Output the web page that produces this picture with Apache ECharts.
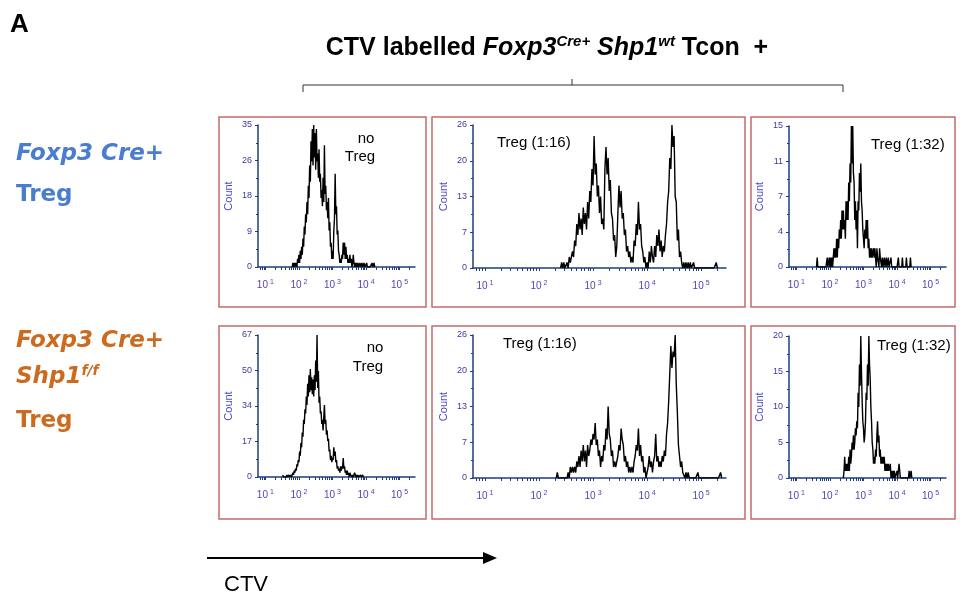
<!DOCTYPE html>
<html>
<head>
<meta charset="utf-8">
<script src="https://cdn.jsdelivr.net/npm/echarts@6/dist/echarts.min.js"></script>
<style>
  html, body { margin: 0; padding: 0; background: #fff; }
  #chart { width: 960px; height: 594px; }
</style>
</head>
<body>
<div id="chart"></div>
<script>
// histogram channels are in log10(CTV) units, one every 0.02
const binStep = 0.02
const decades = [1, 2, 3, 4, 5]

// top row: Foxp3 Cre+ Treg
const startA = 1.80
const countsA = [0, 1, 0, 1, 0, 1, 1, 0, 2, 1,
  3, 1, 4, 2, 5, 3, 7, 5, 10, 8,
  13, 11, 16, 13, 20, 17, 25, 21, 31, 26,
  34, 25, 35, 27, 33, 24, 34, 26, 28, 22,
  29, 21, 23, 17, 19, 15, 22, 16, 30, 18,
  20, 14, 16, 12, 17, 9, 11, 5, 6, 2,
  4, 2, 9, 12, 23, 13, 15, 8, 9, 4,
  3, 1, 2, 1, 3, 2, 6, 3, 6, 2,
  5, 2, 3, 1, 2, 1, 3, 1, 2, 0,
  1, 3, 1, 0, 1, 0, 1, 0, 1, 0,
  0, 1, 0, 0, 1, 0, 0, 1, 0, 0,
  0, 1, 0, 0, 0, 0, 0, 0, 0, 1,
  0, 0, 1, 0]
const ticksA = [0, 9, 18, 26, 35]

const startB = 2.40
const countsB = [0, 1, 0, 1, 0, 0, 1, 0, 2, 1,
  1, 3, 2, 5, 4, 8, 6, 10, 7, 9,
  6, 11, 8, 10, 7, 12, 9, 14, 12, 18,
  15, 24, 17, 19, 13, 15, 10, 13, 8, 9,
  7, 18, 22, 17, 20, 14, 16, 10, 9, 5,
  6, 2, 4, 10, 15, 11, 14, 9, 10, 6,
  7, 3, 4, 2, 3, 1, 2, 1, 5, 4,
  8, 6, 12, 7, 8, 4, 3, 1, 2, 0,
  1, 0, 3, 1, 4, 2, 1, 4, 2, 6,
  4, 7, 3, 5, 2, 4, 3, 6, 8, 12,
  14, 20, 18, 26, 22, 24, 13, 12, 5, 7,
  2, 3, 1, 0, 1, 0, 1, 0, 1, 0,
  1, 0, 0, 1, 0, 0, 0, 0, 0, 0,
  0, 0, 0, 0, 0, 0, 0, 0, 0, 0,
  0, 0, 0, 0, 1, 0]
const ticksB = [0, 7, 13, 20, 26]

const startC = 1.60
const countsC = [0, 1, 0, 0, 0, 0, 0, 0, 0, 0,
  0, 0, 0, 0, 0, 0, 1, 0, 0, 1,
  0, 1, 0, 1, 0, 1, 2, 1, 2, 1,
  3, 1, 3, 2, 4, 3, 5, 3, 6, 4,
  6, 4, 5, 3, 7, 5, 7, 5, 9, 7,
  11, 9, 15, 11, 15, 10, 9, 5, 7, 4,
  6, 2, 7, 6, 10, 8, 11, 7, 6, 4,
  3, 2, 4, 3, 5, 3, 5, 2, 3, 1,
  2, 1, 2, 1, 1, 2, 1, 2, 1, 0,
  2, 1, 1, 0, 2, 1, 1, 0, 1, 0,
  0, 1, 0, 0, 1, 0, 0, 1, 0, 0,
  0, 1, 0, 0, 0, 0, 0, 0, 0, 0,
  0, 0, 1, 0, 0, 0, 0, 0, 1, 0,
  0, 0, 0, 0, 1, 0, 0, 0, 0, 0,
  1, 0]
const ticksC = [0, 4, 7, 11, 15]

// bottom row: Foxp3 Cre+ Shp1 f/f Treg
const startD = 1.52
const countsD = [1, 0, 0, 0, 0, 0, 1, 0, 0, 1, 0, 0, 1, 0,
  1, 2, 1, 3, 2, 4, 3, 6, 5, 8,
  7, 12, 10, 16, 14, 21, 19, 27, 25, 32,
  30, 38, 34, 44, 38, 48, 40, 51, 41, 47,
  39, 46, 38, 48, 41, 55, 45, 67, 42, 50,
  35, 38, 30, 31, 25, 27, 22, 28, 34, 25,
  27, 20, 22, 17, 18, 12, 13, 8, 10, 7,
  9, 8, 14, 10, 12, 7, 8, 4, 5, 3,
  4, 2, 5, 3, 5, 4, 9, 4, 5, 2,
  3, 1, 3, 1, 2, 0, 2, 1, 1, 0,
  1, 0, 1, 2, 1, 0, 1, 0, 1, 0,
  0, 0, 1, 0, 0, 1, 0]
const ticksD = [0, 17, 34, 50, 67]

const startE = 2.32
const countsE = [0, 1, 0, 0, 0, 0, 0, 0, 0, 0, 0,
  1, 0, 2, 1, 2, 1, 2, 1, 3, 2,
  4, 2, 5, 3, 6, 3, 5, 2, 6, 4,
  5, 7, 6, 8, 7, 10, 6, 7, 4, 5,
  2, 4, 3, 6, 5, 9, 7, 13, 8, 7,
  4, 5, 2, 3, 2, 3, 4, 6, 5, 9,
  7, 6, 3, 4, 2, 3, 1, 2, 1, 2,
  1, 3, 4, 6, 5, 9, 4, 6, 3, 4,
  1, 2, 0, 1, 2, 4, 2, 3, 1, 3,
  4, 8, 3, 4, 2, 3, 2, 4, 3, 5,
  4, 8, 10, 14, 19, 24, 20, 23, 22, 26,
  17, 12, 6, 4, 2, 3, 1, 1, 0, 1,
  0, 1, 0, 0, 0, 0, 0, 0, 0, 0,
  1, 0, 0, 0, 0, 0, 0, 0, 0, 0,
  0, 0, 0, 0, 0, 0, 0, 0, 0, 0,
  0, 1, 0]
const ticksE = [0, 7, 13, 20, 26]

const startF = 2.40
const countsF = [0, 1, 3, 1, 2, 1, 2, 1, 3, 1,
  4, 2, 3, 5, 4, 6, 4, 5, 7, 6,
  8, 7, 12, 10, 16, 13, 20, 15, 11, 8,
  7, 5, 6, 8, 12, 11, 16, 13, 20, 16,
  14, 10, 8, 5, 4, 2, 3, 2, 4, 3,
  6, 8, 5, 6, 3, 4, 2, 3, 2, 3,
  2, 3, 1, 2, 1, 2, 1, 2, 1, 1,
  2, 0, 1, 0, 1, 0, 1, 0, 0, 0,
  1, 0, 1, 2, 1, 0, 0, 0, 0, 0,
  0, 0, 0, 0, 0, 0, 0, 0, 1, 0,
  0, 1, 0]
const ticksF = [0, 5, 10, 15, 20]

const axisBlue = '#1f3d7a'
const labelBlue = '#3b3b9c'
const expBlue = '#4f46b8'
const boxRed = '#c46b6b'
const sans = "'Liberation Sans', Arial, sans-serif"
const rowFont = "'DejaVu Sans', 'Open Sans', sans-serif"

// plot areas in px: left, top, width, height
const panels = [
  { rect: [258, 125, 157, 142], start: startA, counts: countsA, ticks: ticksA },
  { rect: [473, 125, 253, 143], start: startB, counts: countsB, ticks: ticksB },
  { rect: [789, 126, 157, 141], start: startC, counts: countsC, ticks: ticksC },
  { rect: [258, 335, 157, 142], start: startD, counts: countsD, ticks: ticksD },
  { rect: [473, 335, 253, 143], start: startE, counts: countsE, ticks: ticksE },
  { rect: [789, 336, 157, 142], start: startF, counts: countsF, ticks: ticksF }
]

// log minor tick marks along the CTV axis
let logTicks = []
for (let n = 0; n <= 5; n++) {
  for (let k = 1; k <= 9; k++) {
    let v = n + Math.log10(k)
    if (v >= 0.78 && v <= 5.46) logTicks.push(v)
  }
}

let chart = echarts.init(document.getElementById('chart'))

let grid = [], xAxis = [], yAxis = [], series = []
panels.forEach((p, i) => {
  let yMax = p.ticks[p.ticks.length - 1]
  grid.push({
    left: p.rect[0], top: p.rect[1], width: p.rect[2], height: p.rect[3],
    containLabel: false, outerBoundsMode: 'none'
  })
  xAxis.push({
    gridIndex: i,
    type: 'value',
    min: 0.78,
    max: 5.46,
    axisLine: { lineStyle: { color: axisBlue, width: 1.5 } },
    axisTick: { show: true, customValues: logTicks, length: 3, lineStyle: { color: axisBlue } },
    splitLine: { show: false },
    axisLabel: {
      customValues: decades,
      margin: 12,
      formatter: v => '{b|10}{s|' + v + '}',
      rich: {
        b: { fontSize: 10, color: expBlue, fontFamily: sans, lineHeight: 13 },
        s: { fontSize: 7, color: expBlue, fontFamily: sans, lineHeight: 7, verticalAlign: 'top', padding: [0, 0, 0, 2] }
      }
    }
  })
  yAxis.push({
    gridIndex: i,
    type: 'value',
    min: 0,
    max: yMax,
    interval: yMax / 4,
    name: 'Count',
    nameLocation: 'middle',
    nameGap: 24,
    nameTextStyle: { color: '#4b4bc8', fontSize: 11, fontFamily: sans },
    axisLine: { show: true, lineStyle: { color: axisBlue, width: 1.5 } },
    axisTick: { show: true, length: 3, lineStyle: { color: axisBlue } },
    minorTick: { show: true, splitNumber: 2, length: 2, lineStyle: { color: axisBlue } },
    splitLine: { show: false },
    axisLabel: {
      color: labelBlue,
      fontSize: 9,
      fontFamily: sans,
      margin: 6,
      formatter: v => String(p.ticks[Math.round(v / (yMax / 4))])
    }
  })
  series.push({
    type: 'line',
    xAxisIndex: i,
    yAxisIndex: i,
    symbol: 'none',
    silent: true,
    lineStyle: { color: '#000', width: 1.4 },
    data: p.counts.map((c, j) => [p.start + j * binStep, c])
  })
})

function box(x, y, w, h) {
  return { type: 'rect', shape: { x: x, y: y, width: w, height: h }, style: { fill: 'none', stroke: boxRed, lineWidth: 1.5 } }
}
function note(txt, x, y, align) {
  return { type: 'text', x: x, y: y, style: { text: txt, font: '15px ' + sans, fill: '#000', align: align || 'left', verticalAlign: 'middle' } }
}

let graphic = [
  box(219, 117, 207, 190), box(432, 117, 313, 190), box(751, 117, 204, 190),
  box(219, 326, 207, 193), box(432, 326, 313, 193), box(751, 326, 204, 193),
  { type: 'text', x: 10, y: 25, style: { text: 'A', font: 'bold 26px ' + sans, fill: '#000', verticalAlign: 'middle' } },
  {
    type: 'text', x: 547, y: 48,
    style: {
      text: '{n|CTV labelled }{i|Foxp3}{si|Cre+}{i| Shp1}{si|wt}{n| Tcon  +}',
      align: 'center', verticalAlign: 'middle',
      rich: {
        n: { font: 'bold 25px ' + sans, fill: '#000', lineHeight: 28 },
        i: { font: 'italic bold 25px ' + sans, fill: '#000', lineHeight: 28 },
        si: { font: 'italic bold 15px ' + sans, fill: '#000', lineHeight: 15, verticalAlign: 'top' }
      }
    }
  },
  { type: 'polyline', shape: { points: [[303, 92], [303, 85], [843, 85], [843, 92]] }, style: { stroke: '#333', lineWidth: 1, fill: 'none' } },
  { type: 'line', shape: { x1: 572, y1: 85, x2: 572, y2: 79 }, style: { stroke: '#333', lineWidth: 1 } },
  { type: 'text', x: 16, y: 154, style: { text: 'Foxp3 Cre+', font: 'italic bold 23px ' + rowFont, fill: '#4a7dcd', verticalAlign: 'middle' } },
  { type: 'text', x: 16, y: 195, style: { text: 'Treg', font: 'bold 23px ' + rowFont, fill: '#4a7dcd', verticalAlign: 'middle' } },
  { type: 'text', x: 16, y: 341, style: { text: 'Foxp3 Cre+', font: 'italic bold 23px ' + rowFont, fill: '#cc6a1e', verticalAlign: 'middle' } },
  {
    type: 'text', x: 16, y: 377,
    style: {
      text: '{a|Shp1}{b|f/f}', verticalAlign: 'middle',
      rich: {
        a: { font: 'italic bold 23px ' + rowFont, fill: '#cc6a1e', lineHeight: 26 },
        b: { font: 'italic bold 14px ' + rowFont, fill: '#cc6a1e', lineHeight: 14, verticalAlign: 'top' }
      }
    }
  },
  { type: 'text', x: 16, y: 421, style: { text: 'Treg', font: 'bold 23px ' + rowFont, fill: '#cc6a1e', verticalAlign: 'middle' } },
  note('no', 366, 139, 'center'), note('Treg', 360, 157, 'center'),
  note('Treg (1:16)', 497, 143), note('Treg (1:32)', 871, 145),
  note('no', 375, 348, 'center'), note('Treg', 368, 367, 'center'),
  note('Treg (1:16)', 503, 344), note('Treg (1:32)', 877, 346),
  { type: 'line', shape: { x1: 207, y1: 558, x2: 486, y2: 558 }, style: { stroke: '#000', lineWidth: 2 } },
  { type: 'polygon', shape: { points: [[483, 552], [497, 558], [483, 564]] }, style: { fill: '#000' } },
  { type: 'text', x: 224, y: 585, style: { text: 'CTV', font: '22px ' + sans, fill: '#000', verticalAlign: 'middle' } }
]

let option = {
  backgroundColor: '#fff',
  animation: false,
  grid: grid,
  xAxis: xAxis,
  yAxis: yAxis,
  series: series,
  graphic: graphic
}
chart.setOption(option)
</script>
</body>
</html>
